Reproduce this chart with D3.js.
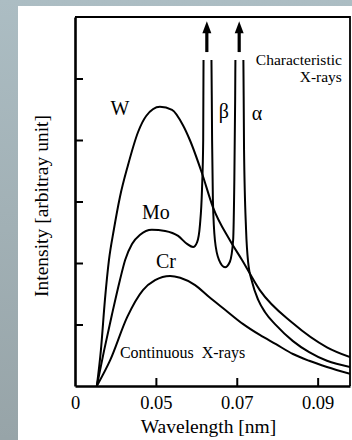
<!DOCTYPE html>
<meta charset="utf-8">
<script src="https://d3js.org/d3.v7.min.js"></script>
<style>
  body { margin: 0; }
  .curve { fill: none; stroke: #000; stroke-width: 2px; }
</style>
<body></body>
<script>

// wavelength [nm], intensity [arbitrary unit]
var wCurve = [
  [0.0354, 0], [0.0364, 0.58], [0.0374, 1.40], [0.0384, 2.05], [0.0396, 2.54],
  [0.0411, 3.07], [0.0431, 3.59], [0.0456, 4.13], [0.0476, 4.39], [0.0510, 4.54],
  [0.0540, 4.49], [0.0567, 4.24], [0.0584, 4.00], [0.0614, 3.46], [0.0641, 2.91],
  [0.0683, 2.37], [0.0713, 2.05], [0.0757, 1.56], [0.0839, 1.02], [0.0923, 0.63],
  [0.0980, 0.47]
];

var moCurve = [
  [0.0354, 0], [0.0372, 0.58], [0.0391, 1.15], [0.0411, 1.72], [0.0424, 2.05],
  [0.0441, 2.31], [0.0461, 2.46], [0.0490, 2.54], [0.0523, 2.52], [0.0555, 2.44],
  [0.0577, 2.31], [0.0592, 2.26], [0.0602, 2.34], [0.0609, 2.62], [0.0614, 3.19],
  [0.0617, 4.00], [0.0618, 5.63], [0.0626, 7.0], [0.0637, 5.63], [0.0639, 4.00],
  [0.0641, 3.02], [0.0646, 2.37], [0.0656, 2.05], [0.0671, 1.93], [0.0683, 2.02],
  [0.0691, 2.37], [0.0694, 3.35], [0.0696, 4.65], [0.0697, 5.63], [0.0706, 7.0],
  [0.0716, 5.63], [0.0718, 3.84], [0.0723, 2.54], [0.0728, 2.02], [0.0738, 1.69],
  [0.0753, 1.40], [0.0770, 1.20], [0.0797, 0.99], [0.0839, 0.73], [0.0879, 0.55],
  [0.0923, 0.41], [0.0980, 0.31]
];

var crCurve = [
  [0.0354, 0], [0.0387, 0.42], [0.0429, 1.12], [0.0468, 1.56], [0.0498, 1.72],
  [0.0535, 1.79], [0.0560, 1.76], [0.0597, 1.64], [0.0631, 1.45], [0.0671, 1.24],
  [0.0715, 1.01], [0.0757, 0.83], [0.0797, 0.68], [0.0839, 0.52], [0.0879, 0.41],
  [0.0923, 0.31], [0.0980, 0.20]
];

// characteristic lines (Mo K-beta, K-alpha)
var peakNames = ["\u03b2", "\u03b1"];
var peakWavelengths = [0.0626, 0.0706];

var xTicks = [0.03, 0.05, 0.07, 0.09];
var xTickLabels = ["0", "0.05", "0.07", "0.09"];
var yTicks = [1, 2, 3, 4, 5];

// label anchors in data units
var curveLabels = [
  { text: "W",  x: 0.0411, y: 4.41 },
  { text: "Mo", x: 0.0500, y: 2.72 },
  { text: "Cr", x: 0.0525, y: 1.92 }
];
var peakLabelPos = [[0.0668, 4.36], [0.0750, 4.33]];

var width = 352,
    height = 440;

var margin = {top: 17, right: 2, bottom: 54, left: 75};
var serif = "'Liberation Serif', Tinos, 'Times New Roman', serif";

var svg = d3.select("body").append("svg")
    .attr("width", width)
    .attr("height", height);

// slide background
var grad = svg.append("defs").append("linearGradient")
    .attr("id", "bg").attr("x1", 0).attr("y1", 0).attr("x2", 0).attr("y2", 1);
grad.append("stop").attr("offset", "0%").attr("stop-color", "#acbdc3");
grad.append("stop").attr("offset", "100%").attr("stop-color", "#97a4a8");

svg.append("rect").attr("width", width).attr("height", height).attr("fill", "url(#bg)");
svg.append("rect").attr("x", 18).attr("y", 6).attr("width", width - 18).attr("height", height - 6)
    .attr("fill", "#fff");

var x = d3.scaleLinear().domain([0.03, 0.098]).range([margin.left, width - margin.right]);
var y = d3.scaleLinear().domain([0, 6]).range([height - margin.bottom, margin.top]);

svg.select("defs").append("clipPath").attr("id", "clip")
  .append("rect")
    .attr("x", x(0.03)).attr("y", y(5.3))
    .attr("width", x(0.098) - x(0.03)).attr("height", y(0) - y(5.3));

// frame top / right
svg.append("path")
    .attr("d", "M" + x(0.03) + "," + y(6) + "H" + x(0.098) + "V" + y(0))
    .attr("fill", "none").attr("stroke", "#000").attr("stroke-width", 1.8);

// axes
var xAxis = d3.axisBottom(x)
    .tickValues(xTicks)
    .tickSizeInner(-8).tickSizeOuter(0).tickPadding(10)
    .tickFormat(function(d, i) { return xTickLabels[i]; });

var gx = svg.append("g")
    .attr("transform", "translate(0," + y(0) + ")")
    .call(xAxis)
    .attr("font-family", serif)
    .attr("font-size", 18.5);
gx.select(".domain").attr("stroke-width", 2.6);
gx.selectAll(".tick line").attr("stroke-width", 2).attr("opacity", function(d, i) { return i ? 1 : 0; });

var yAxis = d3.axisLeft(y)
    .tickValues(yTicks)
    .tickSizeInner(-8).tickSizeOuter(0)
    .tickFormat("");

var gy = svg.append("g")
    .attr("transform", "translate(" + x(0.03) + ",0)")
    .call(yAxis);
gy.select(".domain").attr("stroke-width", 2.6);
gy.selectAll(".tick line").attr("stroke-width", 2);

// curves
var line = d3.line()
    .x(function(d) { return x(d[0]); })
    .y(function(d) { return y(d[1]); })
    .curve(d3.curveMonotoneX);

var plot = svg.append("g").attr("clip-path", "url(#clip)");
[wCurve, moCurve, crCurve].forEach(function(c) {
  plot.append("path").attr("class", "curve").attr("d", line(c));
});

// arrows above the peaks
peakWavelengths.forEach(function(w) {
  var px = x(w), yb = y(5.43), yt = y(5.93);
  svg.append("line")
      .attr("x1", px).attr("x2", px).attr("y1", yb).attr("y2", yt + 10)
      .attr("stroke", "#000").attr("stroke-width", 3.2);
  svg.append("path")
      .attr("d", "M" + (px - 4.5) + "," + (yt + 12) + "L" + px + "," + yt + "L" + (px + 4.5) + "," + (yt + 12) + "Z")
      .attr("fill", "#000");
});

// labels
var labels = svg.append("g").attr("font-family", serif).attr("fill", "#000");

labels.selectAll(".clabel").data(curveLabels).enter().append("text")
    .attr("class", "clabel")
    .attr("x", function(d) { return x(d.x); })
    .attr("y", function(d) { return y(d.y); })
    .attr("text-anchor", "middle")
    .attr("font-size", 20)
    .text(function(d) { return d.text; });

labels.selectAll(".plabel").data(peakNames).enter().append("text")
    .attr("class", "plabel")
    .attr("x", function(d, i) { return x(peakLabelPos[i][0]); })
    .attr("y", function(d, i) { return y(peakLabelPos[i][1]); })
    .attr("text-anchor", "middle")
    .attr("font-size", 20)
    .text(function(d) { return d; });

labels.append("text")
    .attr("x", x(0.096)).attr("y", y(5.22))
    .attr("text-anchor", "end").attr("font-size", 15.5)
    .text("Characteristic");
labels.append("text")
    .attr("x", x(0.096)).attr("y", y(4.94))
    .attr("text-anchor", "end").attr("font-size", 15.5)
    .text("X-rays");

labels.append("text")
    .attr("x", x(0.0411)).attr("y", y(0.455))
    .attr("font-size", 16)
    .attr("xml:space", "preserve")
    .text("Continuous  X-rays");

// axis titles
labels.append("text")
    .attr("x", (x(0.03) + x(0.098)) / 2 - 4).attr("y", 433)
    .attr("text-anchor", "middle").attr("font-size", 19.5)
    .text("Wavelength [nm]");

labels.append("text")
    .attr("transform", "translate(48," + 206 + ") rotate(-90)")
    .attr("text-anchor", "middle").attr("font-size", 19.5)
    .text("Intensity [arbitray unit]");

</script>
</html>
